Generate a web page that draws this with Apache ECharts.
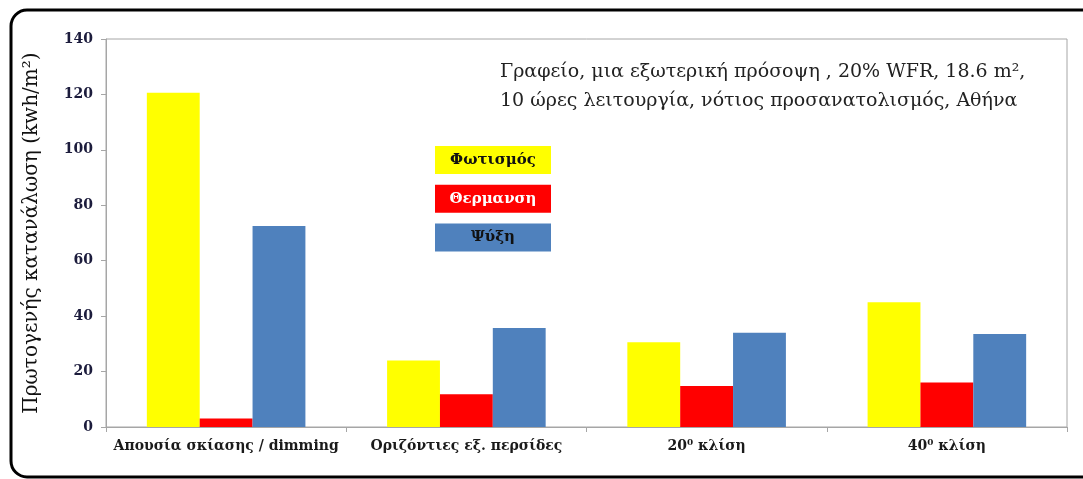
<!DOCTYPE html>
<html>
<head>
<meta charset="utf-8">
<script src="https://cdn.jsdelivr.net/npm/echarts@6/dist/echarts.min.js"></script>
<style>
  html, body { margin: 0; padding: 0; background: #fff; }
  #chart { width: 1083px; height: 479px; }
</style>
</head>
<body>
<div id="chart"></div>
<script>
// Primary energy consumption per shading option (kWh/m²)
const categories = ['Απουσία σκίασης / dimming', 'Οριζόντιες εξ. περσίδες', '20⁰ κλίση', '40⁰ κλίση'];
const seriesNames = ['Φωτισμός', 'Θερμανση', 'Ψύξη'];
const lighting = [120.6, 24.0, 30.6, 45.0];
const heating = [3.1, 11.8, 14.8, 16.1];
const cooling = [72.5, 35.7, 34.0, 33.6];
const yTicks = [0, 20, 40, 60, 80, 100, 120, 140];
const titleLines = ['Γραφείο, μια εξωτερική πρόσοψη , 20% WFR, 18.6 m², ', '10 ώρες λειτουργία, νότιος προσανατολισμός, Αθήνα'];
const yAxisTitle = 'Πρωτογενής κατανάλωση (kwh/m²)';

const colors = ['#FFFF00', '#FF0000', '#4F81BD'];
const legendTextColors = ['#111', '#fff', '#111'];
const serif = '"DejaVu Serif", "Liberation Serif", serif';

const chart = echarts.init(document.getElementById('chart'), null, { renderer: 'canvas' });

// Legend blocks: coloured boxes with the series name centred inside
const legendBlocks = seriesNames.map((name, i) => ({
  type: 'group',
  left: 435,
  top: 146 + i * 38.8,
  children: [
    { type: 'rect', shape: { x: 0, y: 0, width: 116, height: 28 }, style: { fill: colors[i] } },
    { type: 'text', x: 58, y: 14, style: { text: name, fill: legendTextColors[i], font: 'bold 15px ' + serif, align: 'center', verticalAlign: 'middle' } }
  ]
}));

const data = [lighting, heating, cooling];

chart.setOption({
  animation: false,
  backgroundColor: '#fff',
  grid: { left: 106, right: 16, top: 39, bottom: 52, show: true, borderColor: '#a6a6a6', borderWidth: 1 },
  xAxis: {
    type: 'category',
    data: categories,
    axisLine: { lineStyle: { color: '#a6a6a6', width: 1 } },
    axisTick: { show: true, length: 5, lineStyle: { color: '#a6a6a6' } },
    axisLabel: { interval: 0, margin: 12, color: '#1a1a1a', fontFamily: serif, fontWeight: 'bold', fontSize: 14 }
  },
  yAxis: {
    type: 'value',
    min: 0, max: 140, interval: 20,
    name: yAxisTitle,
    nameLocation: 'middle',
    nameGap: 64,
    nameTextStyle: { fontFamily: serif, fontSize: 20, color: '#111' },
    splitLine: { show: false },
    axisLine: { show: true, lineStyle: { color: '#a6a6a6' } },
    axisTick: { show: true, length: 5, lineStyle: { color: '#a6a6a6' } },
    axisLabel: {
      margin: 13, color: '#1c1c3c', fontFamily: serif, fontWeight: 'bold', fontSize: 14,
      formatter: v => (yTicks.includes(v) ? String(v) : '')
    }
  },
  series: seriesNames.map((name, i) => ({
    name,
    type: 'bar',
    data: data[i],
    barGap: '0%',
    barCategoryGap: '34%',
    itemStyle: { color: colors[i] }
  })),
  graphic: [
    // rounded outer frame
    { type: 'rect', shape: { x: 11, y: 10, width: 1120, height: 467, r: 16 }, style: { fill: null, stroke: '#000', lineWidth: 3 }, silent: true },
    { type: 'text', left: 500, top: 58, style: { text: titleLines.join('\n'), font: '19px ' + serif, fill: '#222', lineHeight: 29 } },
    ...legendBlocks
  ]
});
</script>
</body>
</html>
